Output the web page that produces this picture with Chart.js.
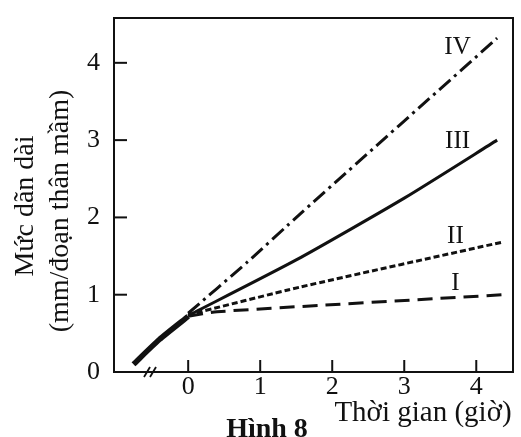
<!DOCTYPE html>
<html>
<head>
<meta charset="utf-8">
<script src="https://cdn.jsdelivr.net/npm/chart.js@4/dist/chart.umd.min.js"></script>
<style>
  html, body { margin: 0; padding: 0; background: #fff; }
  #c { display: block; }
</style>
</head>
<body>
<canvas id="c" width="521" height="437"></canvas>
<script>
// values (time in hours, elongation in mm)
var sharedTime = [-0.76, -0.4, 0.0];
var sharedLen = [0.1, 0.42, 0.72];

var timeI = [0.0, 0.4, 4.37];
var lenI = [0.72, 0.78, 1.0];
var timeII = [0.0, 1.56, 4.36];
var lenII = [0.74, 1.1, 1.68];
var timeIII = [0.0, 1.5, 3.0, 4.29];
var lenIII = [0.73, 1.45, 2.25, 3.0];
var timeIV = [0.0, 0.82, 1.56, 4.29];
var lenIV = [0.76, 1.42, 2.05, 4.32];

var seriesNames = ['I', 'II', 'III', 'IV'];
var nameTime = [3.71, 3.71, 3.74, 3.74];
var nameLen = [1.15, 1.75, 2.98, 4.2];

var xTicks = [0, 1, 2, 3, 4];
var yTicks = [0, 1, 2, 3, 4];

var serif = '"Liberation Serif", "DejaVu Serif", serif';

function pts(xs, ys) {
  return xs.map(function(x, i) { return {x: x, y: ys[i]}; });
}

function line(xs, ys, dash, width) {
  return {
    data: pts(xs, ys),
    borderColor: '#111',
    borderWidth: width,
    borderDash: dash,
    pointRadius: 0,
    tension: 0.2,
    fill: false
  };
}

var decor = {
  id: 'decor',
  afterDraw: function(chart) {
    var ctx = chart.ctx;
    var a = chart.chartArea;
    var xs = chart.scales.x, ys = chart.scales.y;
    ctx.save();
    ctx.strokeStyle = '#111';
    ctx.lineWidth = 2;
    ctx.strokeRect(a.left, a.top, a.right - a.left, a.bottom - a.top);

    // inner tick marks
    yTicks.forEach(function(v) {
      var y = ys.getPixelForValue(v);
      if (v === 0) return;
      ctx.beginPath(); ctx.moveTo(a.left, y); ctx.lineTo(a.left + 13, y); ctx.stroke();
    });
    xTicks.forEach(function(v) {
      var x = xs.getPixelForValue(v);
      ctx.beginPath(); ctx.moveTo(x, a.bottom); ctx.lineTo(x, a.bottom - 12); ctx.stroke();
    });

    // axis break
    var bx = xs.getPixelForValue(-0.53);
    ctx.lineWidth = 1.8;
    [-3, 3].forEach(function(d) {
      ctx.beginPath();
      ctx.moveTo(bx + d - 3, a.bottom + 5);
      ctx.lineTo(bx + d + 3, a.bottom - 5);
      ctx.stroke();
    });

    ctx.fillStyle = '#111';
    ctx.textAlign = 'center';
    ctx.textBaseline = 'middle';

    // series names
    ctx.font = '25px ' + serif;
    seriesNames.forEach(function(n, i) {
      ctx.fillText(n, xs.getPixelForValue(nameTime[i]), ys.getPixelForValue(nameLen[i]));
    });

    // y title
    ctx.font = '28px ' + serif;
    ctx.save();
    ctx.translate(26, 206);
    ctx.rotate(-Math.PI / 2);
    ctx.fillText('Mức dãn dài', 0, 0);
    ctx.restore();
    ctx.save();
    ctx.translate(61, 211);
    ctx.rotate(-Math.PI / 2);
    ctx.fillText('(mm/đoạn thân mầm)', 0, 0);
    ctx.restore();

    // x title and caption
    ctx.textBaseline = 'alphabetic';
    ctx.font = '29px ' + serif;
    ctx.fillText('Thời gian (giờ)', 423, 421);
    ctx.font = 'bold 28px ' + serif;
    ctx.fillText('Hình 8', 267, 437);
    ctx.restore();
  }
};

var ctx = document.getElementById('c').getContext('2d');
var chart = new Chart(ctx, {
  type: 'line',
  data: {
    datasets: [
      line(sharedTime, sharedLen, [], 5.5),
      line(timeI, lenI, [15, 8], 3),
      line(timeII, lenII, [6, 3], 3),
      line(timeIII, lenIII, [], 3),
      line(timeIV, lenIV, [15, 5, 3, 5], 3)
    ]
  },
  options: {
    responsive: false,
    animation: false,
    layout: { padding: { left: 0, right: 8, top: 18, bottom: 0 } },
    plugins: { legend: { display: false }, tooltip: { enabled: false } },
    scales: {
      x: {
        type: 'linear',
        min: -1.03,
        max: 4.51,
        afterBuildTicks: function(s) { s.ticks = xTicks.map(function(v) { return {value: v}; }); },
        afterFit: function(s) { s.height = 65; s.paddingLeft = 0; s.paddingRight = 0; },
        grid: { display: false, drawTicks: false },
        border: { display: true, color: '#111', width: 2 },
        ticks: { color: '#111', padding: 0, font: { family: serif, size: 26 } }
      },
      y: {
        type: 'linear',
        min: 0,
        max: 4.58,
        afterBuildTicks: function(s) { s.ticks = yTicks.map(function(v) { return {value: v}; }); },
        afterFit: function(s) { s.width = 114; s.paddingTop = 0; s.paddingBottom = 0; },
        grid: { display: false, drawTicks: false },
        border: { display: true, color: '#111', width: 2 },
        ticks: { color: '#111', padding: 14, font: { family: serif, size: 26 } }
      }
    }
  },
  plugins: [decor]
});
</script>
</body>
</html>
